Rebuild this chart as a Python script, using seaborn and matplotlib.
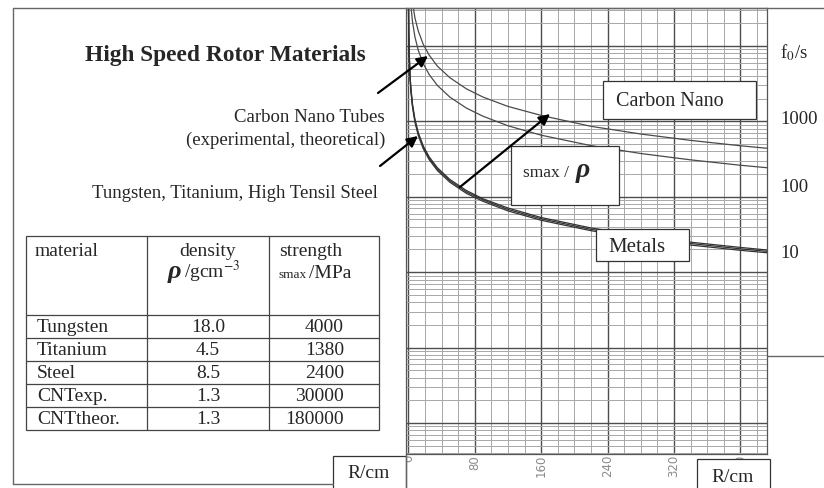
import numpy as np
import pandas as pd
import seaborn as sns
import matplotlib.pyplot as plt
from matplotlib.patches import Rectangle
from matplotlib.ticker import MultipleLocator, LogLocator, NullFormatter

# curves: rotor radius R (cm) vs max frequency f0 (1/s)
r_cnt_theor = [5, 8, 12, 18, 25, 35, 50, 70, 90, 120, 160, 220, 280, 340, 400, 432]
f_cnt_theor = [38000, 23500, 15800, 10500, 7600, 5400, 3800, 2700, 2100, 1580,
               1200, 860, 680, 560, 475, 440]

r_cnt_exp = [3, 5, 8, 12, 18, 25, 35, 50, 70, 90, 120, 160, 220, 280, 340, 400, 432]
f_cnt_exp = [35000, 21000, 13100, 8750, 5830, 4200, 3000, 2100, 1500, 1170, 875,
             656, 477, 375, 309, 262, 243]

r_metal = [0.2, 0.3, 0.5, 1, 2, 3, 5, 8, 12, 18, 25, 35, 50, 70, 90, 120, 160,
           220, 280, 340, 400, 432]
f_tungsten = [39000, 26000, 15600, 7800, 3900, 2600, 1560, 975, 650, 433, 312,
              223, 156, 111, 87, 65, 48.8, 35.5, 27.9, 22.9, 19.5, 18.1]
f_steel = [40700, 27200, 16300, 8150, 4080, 2720, 1630, 1020, 680, 453, 326,
           233, 163, 116, 91, 68, 51.0, 37.0, 29.1, 24.0, 20.4, 18.9]
f_titanium = [42500, 28300, 17000, 8500, 4250, 2830, 1700, 1060, 708, 472, 340,
              243, 170, 121, 94, 71, 53.1, 38.6, 30.4, 25.0, 21.3, 19.7]

# table
materials = ["Tungsten", "Titanium", "Steel", "CNTexp.", "CNTtheor."]
density = ["18.0", "4.5", "8.5", "1.3", "1.3"]
strength = ["4000", "1380", "2400", "30000", "180000"]

x_ticks = [0, 80, 160, 240, 320, 400]
f_labels = ["1000", "100", "10"]

frames = []
for name, r, f in [("CNTtheor", r_cnt_theor, f_cnt_theor),
                   ("CNTexp", r_cnt_exp, f_cnt_exp),
                   ("Tungsten", r_metal, f_tungsten),
                   ("Steel", r_metal, f_steel),
                   ("Titanium", r_metal, f_titanium)]:
    frames.append(pd.DataFrame({"R": r, "f": f, "curve": name}))
df = pd.concat(frames, ignore_index=True)

sns.set_style("white")
plt.rcParams["font.family"] = ["Liberation Serif", "DejaVu Serif"]
plt.rcParams["mathtext.fontset"] = "stix"

W, H = 824, 489
fig = plt.figure(figsize=(W / 100, H / 100), dpi=100)
ax = fig.add_axes([406 / W, 1 - 455 / H, (767 - 406) / W, (455 - 9) / H])

pal = {"CNTtheor": "#4a4a4a", "CNTexp": "#4a4a4a",
       "Tungsten": "#333333", "Steel": "#333333", "Titanium": "#333333"}
sns.lineplot(data=df, x="R", y="f", hue="curve", palette=pal, estimator=None,
             sort=False, legend=False, linewidth=0.9, ax=ax, zorder=3)

ax.set_yscale("log")
ax.set_xlim(-2.8, 432)
ax.set_ylim(0.0388, 31900)
ax.set_xlabel("")
ax.set_ylabel("")

# log paper grid
ax.set_xticks(x_ticks)
ax.xaxis.set_minor_locator(MultipleLocator(20))
ax.yaxis.set_major_locator(LogLocator(base=10))
ax.yaxis.set_minor_locator(LogLocator(base=10, subs=np.arange(2, 10)))
ax.yaxis.set_major_formatter(NullFormatter())
ax.yaxis.set_minor_formatter(NullFormatter())
ax.grid(which="major", color="#4d4d4d", linewidth=1.0)
ax.grid(which="minor", color="#a8a8a8", linewidth=0.7)
ax.set_axisbelow(True)
ax.tick_params(axis="both", which="both", length=0)
ax.tick_params(axis="x", pad=0, labelsize=8.5, labelcolor="#8a8a8a",
               labelrotation=90)
for lab in ax.get_xticklabels():
    lab.set_fontfamily("DejaVu Sans")
for s in ax.spines.values():
    s.set_color("#555555")
    s.set_linewidth(0.9)

# overlay in pixel coordinates for frame, boxes, notes, table
ov = fig.add_axes([0, 0, 1, 1], zorder=5)
ov.set_xlim(0, W)
ov.set_ylim(H, 0)
ov.axis("off")
ov.patch.set_alpha(0)

line_kw = dict(color="#666666", linewidth=1.0)
ov.plot([13, W], [9, 9], **line_kw)
ov.plot([13, 13], [9, 485], **line_kw)
ov.plot([13, 333], [485, 485], **line_kw)
ov.plot([406, 406], [455, H], **line_kw)
ov.plot([767, W], [357, 357], **line_kw)


def box(x0, y0, x1, y1):
    ov.add_patch(Rectangle((x0, y0), x1 - x0, y1 - y0, facecolor="white",
                           edgecolor="#333333", linewidth=0.9))


box(333, 457, 406, H + 5)
ov.text(369, 474, "R/cm", ha="center", va="center", fontsize=14)
box(697, 460, 770, H + 5)
ov.text(733, 477, "R/cm", ha="center", va="center", fontsize=14)

box(603, 82, 756, 120)
ov.text(670, 101, "Carbon Nano", ha="center", va="center", fontsize=14.5)
box(511, 147, 619, 206)
ov.text(523, 177, "smax / ", ha="left", va="baseline", fontsize=12.5)
ov.text(576, 177, "ρ", ha="left", va="baseline", fontsize=20,
        fontstyle="italic", fontweight="bold")
box(596, 230, 689, 262)
ov.text(637, 247, "Metals", ha="center", va="center", fontsize=15)

# right hand frequency labels
ov.text(780, 53, r"f$_{0}$/s", ha="left", va="center", fontsize=13.5)
for lab, y in zip(f_labels, [119, 188, 253]):
    ov.text(780, y, lab, ha="left", va="center", fontsize=13.5)

# title and notes
ov.text(225, 55, "High Speed Rotor Materials", ha="center", va="center",
        fontsize=16.8, fontweight="bold")
ov.text(385, 118, "Carbon Nano Tubes", ha="right", va="center", fontsize=13.5)
ov.text(385, 140, "(experimental, theoretical)", ha="right", va="center",
        fontsize=13.5)
ov.text(378, 193, "Tungsten, Titanium, High Tensil Steel", ha="right",
        va="center", fontsize=13.5)

arrow_kw = dict(arrowstyle="-|>", color="black", lw=1.6, mutation_scale=16,
                shrinkA=0, shrinkB=0)
ov.annotate("", xy=(428, 57), xytext=(378, 94), arrowprops=arrow_kw)
ov.annotate("", xy=(418, 137), xytext=(380, 167), arrowprops=arrow_kw)
ov.annotate("", xy=(550, 115), xytext=(460, 188), arrowprops=arrow_kw)

# material table
tx0, tx1, ty0, ty1 = 26, 379, 237, 431
col1, col2 = 147, 269
head_bot = 316
row_h = (ty1 - head_bot) / len(materials)
ov.add_patch(Rectangle((tx0, ty0), tx1 - tx0, ty1 - ty0, facecolor="none",
                       edgecolor="#444444", linewidth=0.9))
ov.plot([col1, col1], [ty0, ty1], color="#444444", linewidth=0.9)
ov.plot([col2, col2], [ty0, ty1], color="#444444", linewidth=0.9)
for i in range(len(materials)):
    y = head_bot + i * row_h
    ov.plot([tx0, tx1], [y, y], color="#444444", linewidth=0.9)

ov.text(35, 252, "material", ha="left", va="center", fontsize=14)
ov.text(208, 252, "density", ha="center", va="center", fontsize=14)
ov.text(168, 278, "ρ", ha="left", va="baseline", fontsize=19,
        fontstyle="italic", fontweight="bold")
ov.text(184, 278, r"/gcm$^{-3}$", ha="left", va="baseline", fontsize=14)
ov.text(279, 278, "smax", ha="left", va="baseline", fontsize=9.5)
ov.text(279, 252, "strength", ha="left", va="center", fontsize=14)
ov.text(309, 278, "/MPa", ha="left", va="baseline", fontsize=14)

for i, (m, d, s) in enumerate(zip(materials, density, strength)):
    yc = head_bot + (i + 0.5) * row_h
    ov.text(37, yc, m, ha="left", va="center", fontsize=14)
    ov.text(208, yc, d, ha="center", va="center", fontsize=14)
    ov.text(344, yc, s, ha="right", va="center", fontsize=14)

fig.savefig("out.png", dpi=100)
